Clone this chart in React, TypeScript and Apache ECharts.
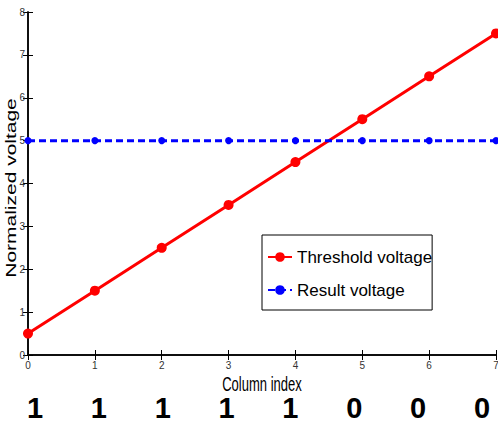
import React, { useEffect, useRef } from "react";
import * as echarts from "echarts";

const columns = [0, 1, 2, 3, 4, 5, 6, 7];
const thresholdVoltage = [0.5, 1.5, 2.5, 3.5, 4.5, 5.5, 6.5, 7.5];
const resultVoltage = [5, 5, 5, 5, 5, 5, 5, 5];
const bits = ["1", "1", "1", "1", "1", "0", "0", "0"];

const FONT = "'Liberation Sans', Arial, sans-serif";

export default function App() {
  const ref = useRef<HTMLDivElement>(null);
  useEffect(() => {
    if (!ref.current) return;
    const chart = echarts.init(ref.current, null, { renderer: "svg" });
    const tickLabel = { color: "#333", fontSize: 10, fontFamily: FONT };
    chart.setOption({
      animation: false,
      backgroundColor: "#fff",
      grid: [
        { left: 28, right: 2, top: 12, bottom: 67, outerBoundsMode: "none", containLabel: false },
        { left: 35, width: 447, top: 392, height: 1, outerBoundsMode: "none", containLabel: false },
      ],
      graphic: [
        {
          type: "text",
          x: 262,
          y: 384,
          scaleX: 0.62,
          style: {
            text: "Column index",
            fontSize: 21,
            fontFamily: FONT,
            fill: "#000",
            align: "center",
            verticalAlign: "middle",
          },
        },
        {
          type: "text",
          x: 11,
          y: 188,
          rotation: Math.PI / 2,
          scaleY: 0.68,
          style: {
            text: "Normalized voltage",
            fontSize: 21,
            fontFamily: FONT,
            fill: "#000",
            align: "center",
            verticalAlign: "middle",
          },
        },
      ],
      legend: {
        orient: "vertical",
        left: 262,
        top: 235,
        backgroundColor: "#fff",
        borderColor: "#000",
        borderWidth: 1,
        borderRadius: 0,
        padding: [12, 0, 10, 5],
        itemGap: 13,
        itemWidth: 24,
        itemHeight: 12,
        textStyle: { fontSize: 17, lineHeight: 20, color: "#000", fontFamily: FONT, padding: [0, 0, 0, 0] },
        data: ["Threshold voltage", "Result voltage"],
      },
      xAxis: [
        {
          type: "value",
          gridIndex: 0,
          min: 0,
          max: 7,
          interval: 1,
          axisLine: { lineStyle: { color: "#000", width: 1.5 } },
          axisTick: { inside: true, length: 5, lineStyle: { color: "#000" } },
          axisLabel: { ...tickLabel, margin: 5 },
          splitLine: { show: false },
        },
        {
          type: "value",
          gridIndex: 0,
          position: "top",
          min: 0,
          max: 7,
          interval: 1,
          axisLine: { lineStyle: { color: "#000", width: 1.5 } },
          axisTick: { inside: true, length: 5, lineStyle: { color: "#000" } },
          axisLabel: { show: false },
          splitLine: { show: false },
        },
        {
          type: "value",
          gridIndex: 1,
          min: 0,
          max: 7,
          interval: 1,
          axisLine: { show: false },
          axisTick: { show: false },
          splitLine: { show: false },
          axisLabel: {
            margin: 0,
            fontSize: 29,
            lineHeight: 29,
            fontWeight: "bold",
            color: "#000",
            fontFamily: FONT,
            formatter: (v: number) => bits[Math.round(v)] ?? "",
          },
        },
      ],
      yAxis: [
        {
          type: "value",
          gridIndex: 0,
          min: 0,
          max: 8,
          interval: 1,
          axisLine: { lineStyle: { color: "#000", width: 1.5 } },
          axisTick: { inside: true, length: 5, lineStyle: { color: "#000" } },
          axisLabel: { ...tickLabel, margin: 3 },
          splitLine: { show: false },
        },
        {
          type: "value",
          gridIndex: 0,
          position: "right",
          min: 0,
          max: 8,
          interval: 1,
          axisLine: { lineStyle: { color: "#000", width: 1.5 } },
          axisTick: { inside: true, length: 5, lineStyle: { color: "#000" } },
          axisLabel: { show: false },
          splitLine: { show: false },
        },
        {
          type: "value",
          gridIndex: 1,
          show: false,
          min: 0,
          max: 1,
        },
      ],
      series: [
        {
          name: "Threshold voltage",
          type: "line",
          xAxisIndex: 0,
          yAxisIndex: 0,
          data: columns.map((c, i) => [c, thresholdVoltage[i]]),
          color: "#ff0000",
          lineStyle: { width: 3, color: "#ff0000" },
          symbol: "circle",
          symbolSize: 10,
          itemStyle: { color: "#ff0000" },
          clip: false,
        },
        {
          name: "Result voltage",
          type: "line",
          xAxisIndex: 0,
          yAxisIndex: 0,
          data: columns.map((c, i) => [c, resultVoltage[i]]),
          color: "#0000ff",
          lineStyle: { width: 3, color: "#0000ff", type: [7, 4] },
          symbol: "circle",
          symbolSize: 7,
          itemStyle: { color: "#0000ff" },
          clip: false,
        },
      ],
    });
    return () => chart.dispose();
  }, []);
  return <div ref={ref} style={{ width: 498, height: 422, position: "absolute", left: 0, top: 0 }} />;
}
